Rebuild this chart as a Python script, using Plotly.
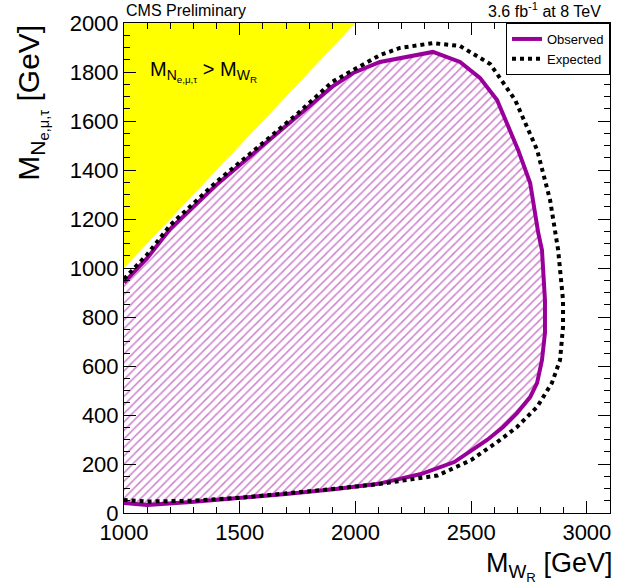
import plotly.graph_objects as go

# Observed exclusion contour (M_WR, M_N) in GeV
obs_x = [1000, 1100, 1200, 1400, 1600, 1750, 1900, 1990, 2106, 2335, 2452, 2538, 2612, 2703, 2755,
         2790, 2806, 2819, 2819, 2806, 2785, 2755, 2698, 2638, 2569, 2427, 2283, 2093, 1916, 1700,
         1493, 1290, 1100, 1000]
obs_y = [940, 1040, 1160, 1340, 1500, 1620, 1740, 1796, 1841, 1882, 1841, 1776, 1686, 1482, 1347,
         1143, 1073, 869, 735, 624, 531, 473, 408, 351, 298, 208, 159, 118, 98, 78,
         61, 45, 33, 41]

# Expected exclusion contour
exp_x = [1000, 1100, 1200, 1400, 1600, 1750, 1900, 1990, 2106, 2192, 2335, 2452, 2582, 2690, 2785,
         2841, 2876, 2897, 2897, 2884, 2849, 2785, 2698, 2625, 2500, 2355, 2100, 1900, 1700, 1500,
         1300, 1100, 1000]
exp_y = [955, 1055, 1175, 1352, 1510, 1630, 1760, 1808, 1869, 1898, 1918, 1906, 1833, 1686, 1482,
         1278, 1073, 869, 759, 624, 531, 433, 351, 298, 216, 153, 118, 98, 78, 62,
         50, 47, 53]

# Kinematically forbidden region M_N > M_WR
forb_x = [1000, 2000, 1000]
forb_y = [1000, 2000, 2000]

PURPLE = "#990099"
FONT = "Liberation Sans, Arial, Helvetica, sans-serif"

fig = go.Figure()

fig.add_trace(go.Scatter(x=forb_x, y=forb_y, fill="toself", fillcolor="#ffff00",
                         mode="none", showlegend=False, hoverinfo="skip"))

fig.add_trace(go.Scatter(x=obs_x, y=obs_y, fill="toself", mode="none",
                         fillcolor="rgba(0,0,0,0)",
                         fillpattern=dict(shape="/", fgcolor=PURPLE, bgcolor="rgba(0,0,0,0)",
                                          size=6, solidity=0.25),
                         showlegend=False, hoverinfo="skip"))

fig.add_trace(go.Scatter(x=obs_x, y=obs_y, mode="lines", name="Observed",
                         line=dict(color=PURPLE, width=4)))
fig.add_trace(go.Scatter(x=exp_x, y=exp_y, mode="lines", name="Expected",
                         line=dict(color="black", width=4, dash="dot")))

axis_common = dict(
    showline=True, linecolor="black", linewidth=1, mirror="allticks",
    ticks="inside", ticklen=12, tickcolor="black", tickwidth=1,
    showgrid=False, zeroline=False,
    tickfont=dict(family=FONT, size=22, color="black"),
)

fig.update_xaxes(range=[1000, 3100], tickvals=[1000, 1500, 2000, 2500, 3000],
                 minor=dict(dtick=100, ticks="inside", ticklen=6, tickcolor="black", showgrid=False),
                 **axis_common)
fig.update_yaxes(range=[0, 2000], tickvals=list(range(0, 2001, 200)),
                 minor=dict(dtick=50, ticks="inside", ticklen=6, tickcolor="black", showgrid=False),
                 **axis_common)

fig.update_layout(
    width=632, height=587,
    margin=dict(l=124, r=22, t=23, b=74),
    plot_bgcolor="white", paper_bgcolor="white",
    font=dict(family=FONT, color="black"),
    legend=dict(x=1, y=1, xanchor="right", yanchor="top",
                bordercolor="black", borderwidth=1, bgcolor="white",
                font=dict(family=FONT, size=13), tracegroupgap=0, itemwidth=30),
    annotations=[
        dict(text="CMS Preliminary", xref="paper", yref="paper", x=0, y=1.0265,
             xanchor="left", yanchor="middle", showarrow=False, font=dict(size=16)),
        dict(text="3.6 fb<sup>-1</sup> at 8 TeV", xref="paper", yref="paper", x=0.985, y=1.0265,
             xanchor="right", yanchor="middle", showarrow=False, font=dict(size=16)),
        dict(text="M<sub>W<sub>R</sub></sub> [GeV]", xref="paper", yref="paper", x=1.0, y=-0.11,
             xanchor="right", yanchor="middle", xshift=4, showarrow=False, font=dict(size=27)),
        dict(text="M<sub>N<sub>e,μ,τ</sub></sub> [GeV]", xref="paper", yref="paper", x=-0.19, y=1.0,
             xanchor="center", yanchor="top", textangle=-90, showarrow=False, font=dict(size=30)),
        dict(text="M<sub>N<sub>e,μ,τ</sub></sub> > M<sub>W<sub>R</sub></sub>", xref="paper", yref="paper",
             x=0.05, y=0.90, xanchor="left", yanchor="middle", showarrow=False, font=dict(size=20)),
    ],
)

fig.write_html("out.html")
